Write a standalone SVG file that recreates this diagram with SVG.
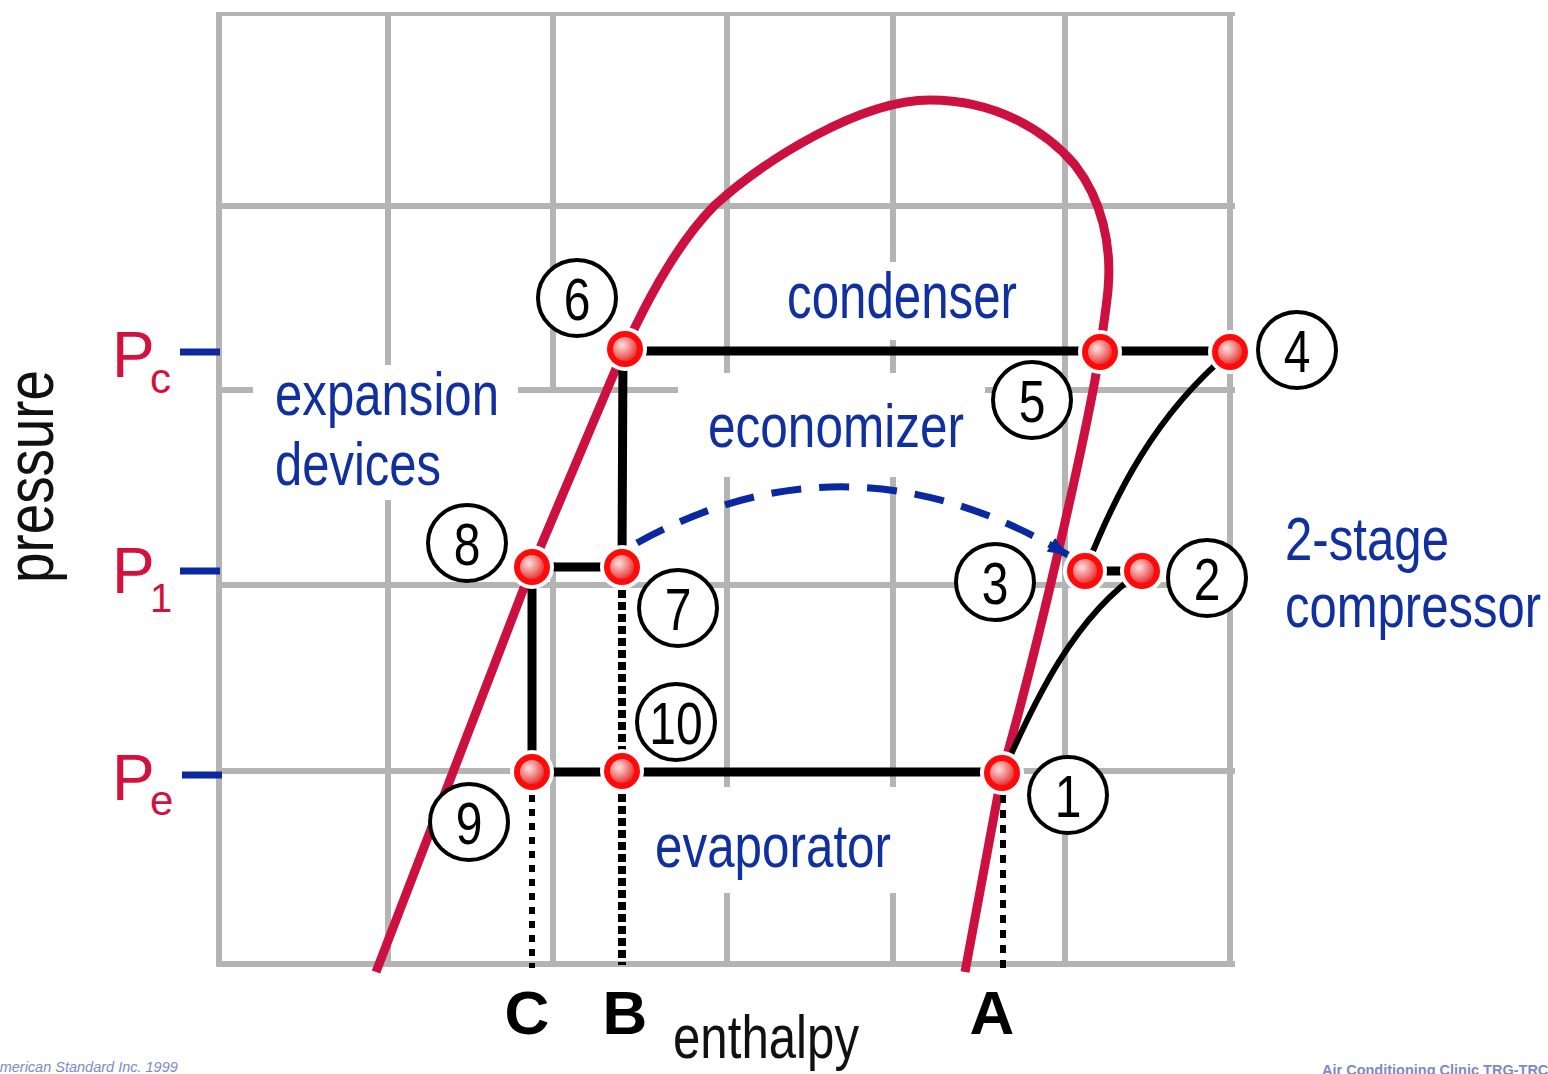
<svg xmlns="http://www.w3.org/2000/svg" width="1548" height="1074" viewBox="0 0 1548 1074">
<style>
.grid{stroke:#b4b4b4;stroke-width:6;fill:none}
.mask{fill:#ffffff}
.lbl{font-family:"Liberation Sans",Arial,sans-serif;font-size:62px;fill:#1030a0}
.plbl{font-family:"Liberation Sans",Arial,sans-serif;fill:#d4103c}
.tick{stroke:#0a28a0;stroke-width:7}
.proc{stroke:#000;stroke-width:9;fill:none}
.comp{stroke:#000;stroke-width:6;fill:none}
.sat{stroke:#cc1040;stroke-width:9;fill:none;stroke-linecap:butt;stroke-linejoin:round}
.ring{fill:#fff;stroke:#000;stroke-width:4}
.num{font-family:"Liberation Sans",Arial,sans-serif;font-size:60px;fill:#000;text-anchor:middle}
.abc{font-family:"Liberation Sans",Arial,sans-serif;font-size:62px;font-weight:bold;fill:#000;text-anchor:middle}
.foot{font-family:"Liberation Sans",Arial,sans-serif;font-size:14.5px;fill:#7d8ac8}
</style>
<defs>
<radialGradient id="dotg" cx="0.4" cy="0.38" r="0.65">
<stop offset="0" stop-color="#ffe0e0"/>
<stop offset="0.55" stop-color="#f07070"/>
<stop offset="1" stop-color="#e01010"/>
</radialGradient>
<g id="dot">
<circle r="22" fill="#fff"/>
<circle r="15" fill="url(#dotg)" stroke="#ff0a0a" stroke-width="6"/>
</g>
<marker id="arr" markerUnits="userSpaceOnUse" viewBox="0 0 20 16" refX="20" refY="8" markerWidth="20" markerHeight="16" orient="auto">
<path d="M0,0 L20,8 L0,16 z" fill="#0a28a0"/>
</marker>
</defs>
<rect width="1548" height="1074" fill="#fff"/>

<g id="grid">
<line class="grid" x1="219" y1="14" x2="1235" y2="14" style="stroke-width:4"/>
<line class="grid" x1="219" y1="206" x2="1235" y2="206"/>
<line class="grid" x1="219" y1="390" x2="1235" y2="390"/>
<line class="grid" x1="219" y1="585" x2="1235" y2="585"/>
<line class="grid" x1="219" y1="771" x2="1235" y2="771"/>
<line class="grid" x1="216" y1="964" x2="1235" y2="964"/>
<line class="grid" x1="219" y1="12" x2="219" y2="967"/>
<line class="grid" x1="388" y1="12" x2="388" y2="967"/>
<line class="grid" x1="553" y1="12" x2="553" y2="967"/>
<line class="grid" x1="727" y1="12" x2="727" y2="967"/>
<line class="grid" x1="893" y1="12" x2="893" y2="967"/>
<line class="grid" x1="1065" y1="12" x2="1065" y2="967"/>
<line class="grid" x1="1230" y1="12" x2="1230" y2="967"/>
</g>

<g id="label-masks">
<rect class="mask" x="253" y="365" width="265" height="135"/>
<rect class="mask" x="546" y="393" width="14" height="169"/>
<rect class="mask" x="780" y="262" width="240" height="78"/>
<rect class="mask" x="678" y="373" width="307" height="104"/>
<rect class="mask" x="645" y="787" width="253" height="106"/>
</g>

<g id="axes">
<text class="lbl" transform="translate(53,583) rotate(-90)" style="font-size:66px;fill:#111" textLength="213" lengthAdjust="spacingAndGlyphs">pressure</text>
<g id="Pc">
<text class="plbl" x="112" y="377" style="font-size:64px">P</text>
<text class="plbl" x="150" y="393" style="font-size:42px">c</text>
<line class="tick" x1="180" y1="352" x2="220" y2="352"/>
</g>
<g id="P1">
<text class="plbl" x="112" y="593" style="font-size:64px">P</text>
<text class="plbl" x="150" y="612" style="font-size:40px">1</text>
<line class="tick" x1="180" y1="571" x2="220" y2="571"/>
</g>
<g id="Pe">
<text class="plbl" x="112" y="800" style="font-size:64px">P</text>
<text class="plbl" x="150" y="815" style="font-size:42px">e</text>
<line class="tick" x1="182" y1="775" x2="222" y2="775"/>
</g>
<text class="lbl" x="673" y="1058" style="fill:#111" textLength="186" lengthAdjust="spacingAndGlyphs">enthalpy</text>
<text class="abc" x="527" y="1034">C</text>
<text class="abc" x="625" y="1034">B</text>
<text class="abc" x="992" y="1034">A</text>
</g>

<g id="saturation-curve">
<path class="sat" d="M376,972 L532,567 L612,378 C640,312 675,245 715,205 C765,160 860,100 930,100 C995,100 1045,130 1075,165 C1102,200 1112,245 1108,290 C1105,320 1100,350 1095,380 C1080,460 1040,640 1002,773 L965,972"/>
</g>

<g id="connectors">
<line class="proc" x1="625" y1="351" x2="1230" y2="351"/>
<line class="proc" x1="623" y1="349" x2="622" y2="567"/>
<line class="proc" x1="532" y1="567" x2="621" y2="567"/>
<line class="proc" x1="532" y1="567" x2="532" y2="772"/>
<line class="proc" x1="532" y1="772" x2="1002" y2="772"/>
<line class="proc" x1="1085" y1="571" x2="1142" y2="571"/>
<path class="comp" d="M1004,770 C1035,700 1075,615 1142,571"/>
<path class="comp" d="M1087,566 C1115,495 1155,415 1229,353"/>
<line x1="622" y1="590" x2="622" y2="965" stroke="#000" stroke-width="8" stroke-dasharray="8 4"/>
<line x1="532" y1="795" x2="532" y2="968" stroke="#000" stroke-width="6" stroke-dasharray="7 7"/>
<line x1="1003" y1="795" x2="1003" y2="972" stroke="#000" stroke-width="6" stroke-dasharray="8 7"/>
<path d="M637,543 Q850,425 1068,555" fill="none" stroke="#0a28a0" stroke-width="7" stroke-dasharray="30 18" marker-end="url(#arr)"/>
</g>

<g id="region-labels">
<text class="lbl" x="275" y="415" textLength="224" lengthAdjust="spacingAndGlyphs">expansion</text>
<text class="lbl" x="275" y="485" textLength="166" lengthAdjust="spacingAndGlyphs">devices</text>
<text class="lbl" x="787" y="318" style="font-size:64px" textLength="230" lengthAdjust="spacingAndGlyphs">condenser</text>
<text class="lbl" x="708" y="447" textLength="256" lengthAdjust="spacingAndGlyphs">economizer</text>
<text class="lbl" x="655" y="867" textLength="236" lengthAdjust="spacingAndGlyphs">evaporator</text>
<text class="lbl" x="1285" y="560" textLength="164" lengthAdjust="spacingAndGlyphs">2-stage</text>
<text class="lbl" x="1285" y="627" textLength="256" lengthAdjust="spacingAndGlyphs">compressor</text>
</g>

<g id="point-1"><use href="#dot" x="1002" y="773"/><ellipse class="ring" cx="1068" cy="795" rx="39" ry="38"/><text class="num" transform="translate(1068,817) scale(0.8,1)">1</text></g>
<g id="point-2"><use href="#dot" x="1142" y="571"/><ellipse class="ring" cx="1207" cy="578" rx="39" ry="38"/><text class="num" transform="translate(1207,600) scale(0.8,1)">2</text></g>
<g id="point-3"><use href="#dot" x="1085" y="571"/><ellipse class="ring" cx="995" cy="582" rx="39" ry="38"/><text class="num" transform="translate(995,604) scale(0.8,1)">3</text></g>
<g id="point-4"><use href="#dot" x="1230" y="352"/><ellipse class="ring" cx="1297" cy="350" rx="39" ry="38"/><text class="num" transform="translate(1297,372) scale(0.8,1)">4</text></g>
<g id="point-5"><use href="#dot" x="1100" y="352"/><ellipse class="ring" cx="1032" cy="400" rx="39" ry="38"/><text class="num" transform="translate(1032,422) scale(0.8,1)">5</text></g>
<g id="point-6"><use href="#dot" x="625" y="349"/><ellipse class="ring" cx="577" cy="298" rx="39" ry="38"/><text class="num" transform="translate(577,320) scale(0.8,1)">6</text></g>
<g id="point-7"><use href="#dot" x="622" y="567"/><ellipse class="ring" cx="678" cy="608" rx="39" ry="38"/><text class="num" transform="translate(678,630) scale(0.8,1)">7</text></g>
<g id="point-8"><use href="#dot" x="532" y="567"/><ellipse class="ring" cx="467" cy="543" rx="39" ry="38"/><text class="num" transform="translate(467,565) scale(0.8,1)">8</text></g>
<g id="point-9"><use href="#dot" x="532" y="772"/><ellipse class="ring" cx="469" cy="822" rx="39" ry="38"/><text class="num" transform="translate(469,844) scale(0.8,1)">9</text></g>
<g id="point-10"><use href="#dot" x="622" y="771"/><ellipse class="ring" cx="676" cy="722" rx="39" ry="38"/><text class="num" transform="translate(676,744) scale(0.8,1)">10</text></g>

<g id="footer">
<text class="foot" x="-10" y="1072" font-style="italic">American Standard Inc. 1999</text>
<text class="foot" x="1322" y="1075" font-weight="bold">Air Conditioning Clinic TRG-TRC</text>
</g>
</svg>
